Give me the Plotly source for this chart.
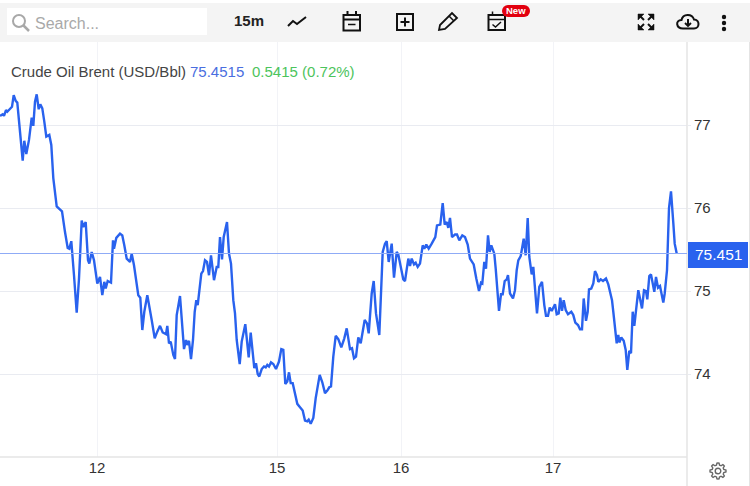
import math
import plotly.graph_objects as go

# 15 minute bars, one pair of lists per trading day
bars_11 = [0, 1.35, 2, 3, 3.65, 5, 6, 6.85, 7.85, 8.65, 9.65, 10.35, 11.35, 12.15, 13.15, 14.5, 15.85, 16.65, 17.5,
           18.35, 19.35, 20.15, 21.15, 22.15, 23.15, 24.65, 25.65, 26.65, 28.35, 29.65, 31, 32.5, 33.85, 34.65, 35.65,
           37, 38.35, 39.5, 40.85, 41.65, 42.85, 44, 44.65, 45.85, 47]
close_11 = [77.11, 77.13, 77.11, 77.18, 77.16, 77.20, 77.22, 77.36, 77.29, 77.27, 77.04, 76.80, 76.57, 76.81, 76.65,
            76.82, 77.09, 76.99, 77.28, 77.37, 77.19, 77.25, 77.20, 77.04, 76.86, 76.88, 76.76, 76.36, 76.02, 75.99,
            75.96, 75.71, 75.52, 75.51, 75.60, 75.19, 74.74, 75.15, 75.85, 75.77, 75.83, 75.37, 75.33, 75.47, 75.37]

bars_12 = [48.65, 50, 51.15, 52.15, 52.85, 53.85, 55.5, 56.5, 57, 58.15, 60, 61.15, 62.15, 63.35, 65, 65.85, 67, 69.15,
           70.15, 71.15, 72.15, 73.65, 75.85, 77.35, 78.65, 80, 81.35, 83, 83.65, 84.5, 85.35, 86.65, 87.5, 88.35, 90,
           91.15, 92, 93, 93.65, 94.5, 95.5, 96.5, 97.35, 98.15, 98.85, 100.65, 101.5, 102.5, 103.5, 104.5, 105.5, 107,
           108.35, 109.15, 110, 111, 111.85, 113.5, 114.5, 115.5, 116.65, 117.5, 118.35, 119.85, 120.85, 122.65,
           124.35, 125.35, 127.15, 128, 128.85, 129.65, 130.85, 132, 132.85, 133.65, 134.5, 135.5, 136.65, 138]
close_12 = [75.09, 75.17, 74.95, 75.11, 75.03, 75.12, 75.10, 75.61, 75.51, 75.64, 75.69, 75.67, 75.55, 75.39, 75.35,
            75.45, 75.31, 74.95, 74.92, 74.53, 74.75, 74.95, 74.65, 74.43, 74.51, 74.58, 74.50, 74.48, 74.58, 74.37,
            74.39, 74.23, 74.18, 74.71, 74.94, 74.59, 74.30, 74.41, 74.35, 74.40, 74.18, 74.41, 74.75, 74.89, 74.83,
            75.21, 75.24, 75.37, 75.35, 75.19, 75.43, 75.13, 75.29, 75.29, 75.65, 75.38, 75.65, 75.83, 75.45, 75.33,
            74.89, 74.73, 74.41, 74.12, 74.39, 74.60, 74.20, 74.50, 74.07, 74.13, 74.00, 73.97, 74.06, 74.09, 74.08,
            74.11, 74.09, 74.14, 74.12, 74.06]

bars_15 = [139.5, 140.65, 141.65, 142.65, 143.65, 144.5, 145.35, 146.35, 147.5, 148.65, 150, 151.35, 152.5, 153.65,
           154.35, 155.35, 156.65, 157.85, 159.85, 161.15, 162.5, 163.65, 164.65, 165.5, 166.65, 167.85, 169.15,
           170.65, 172.15, 173.35, 175, 176, 177, 178, 179.15, 180.35, 182.35, 183.5, 184.35, 185.85, 186.85, 188,
           189.65, 191.35, 192.5, 193.35, 194.35, 195.85, 197, 198.35, 199.15]
close_15 = [74.15, 74.30, 74.29, 73.88, 73.91, 74.02, 73.89, 73.89, 73.77, 73.64, 73.60, 73.56, 73.44, 73.43, 73.45,
            73.40, 73.47, 73.71, 73.99, 73.90, 73.77, 73.80, 73.84, 73.85, 74.21, 74.46, 74.42, 74.32, 74.43, 74.55,
            74.30, 74.31, 74.19, 74.21, 74.44, 74.37, 74.65, 74.61, 74.49, 74.97, 75.12, 74.73, 74.47, 75.47, 75.57,
            75.60, 75.35, 75.57, 75.16, 75.47, 75.44]

bars_16 = [200.85, 201.65, 202.5, 204.15, 205, 205.85, 207, 207.85, 208.85, 210, 211.35, 212.15, 213.15, 214.35, 215.85,
           217.65, 218.5, 220.15, 221.35, 222.35, 223.35, 224.15, 225, 226, 227.5, 228.5, 229.65, 231.15, 232.5,
           233.85, 235, 236.85, 238.15, 239.5, 240.5, 241.15, 242.15, 243, 244, 244.85, 245.65, 247.15, 247.85, 248.65,
           249.5, 250.5, 251.35, 252.35, 253.35, 254, 255, 256.5, 257.5, 258.35, 259.15, 260.35, 261.85, 262.85, 263.85,
           264.65, 265.85, 266.65, 267.65, 268.5, 269.65, 271, 272.15, 273, 274, 274.85, 275.85]
close_16 = [75.21, 75.14, 75.12, 75.39, 75.30, 75.39, 75.32, 75.34, 75.29, 75.33, 75.55, 75.51, 75.56, 75.51, 75.57,
            75.65, 75.79, 75.80, 76.06, 75.80, 75.83, 75.76, 75.88, 75.65, 75.68, 75.68, 75.61, 75.67, 75.65, 75.56,
            75.39, 75.32, 75.15, 75.00, 75.10, 75.09, 75.35, 75.27, 75.67, 75.47, 75.55, 75.45, 75.27, 74.95, 74.76,
            74.96, 74.96, 75.12, 75.14, 75.19, 74.97, 74.91, 75.01, 75.25, 75.37, 75.42, 75.63, 75.43, 75.88, 75.41,
            75.20, 75.29, 75.01, 74.73, 75.05, 75.11, 74.83, 74.70, 74.70, 74.80, 74.76]

bars_17 = [277.5, 278.35, 279.35, 280.15, 281, 281.85, 282.85, 284, 285.65, 286.65, 287.65, 289, 290, 291, 291.85, 293,
           293.85, 294.5, 295.65, 296.65, 297.5, 298.5, 299.15, 300.35, 301.5, 303, 304.15, 305, 306, 306.65, 307.5,
           308.35, 309.15, 309.65, 310.65, 311.85, 312.85, 313.65, 314.65, 315.5, 316.35, 317.15, 319.15, 321, 322, 323,
           323.65, 324.65, 325.5, 327.15, 328, 329, 330, 331.65, 332.35, 333.5, 334.5, 335.5, 336.65, 337.35, 338.35]
close_17 = [74.84, 74.72, 74.73, 74.92, 74.76, 74.89, 74.77, 74.72, 74.75, 74.71, 74.62, 74.59, 74.54, 74.54, 74.91,
            74.64, 74.75, 75.02, 75.03, 75.09, 75.24, 75.19, 75.11, 75.14, 75.12, 75.15, 75.08, 74.99, 74.89, 74.75,
            74.55, 74.37, 74.47, 74.38, 74.44, 74.40, 74.29, 74.05, 74.28, 74.25, 74.75, 74.58, 75.01, 74.79, 75.01,
            75.00, 74.90, 75.18, 75.20, 74.99, 75.17, 75.04, 75.06, 74.86, 74.97, 75.25, 76.00, 76.20, 75.82, 75.57,
            75.4515]

day_ticks = [48.5, 138.5, 200.5, 276.5]
day_labels = ["12", "15", "16", "17"]
price_ticks = [74, 75, 76, 77]
last_price = 75.4515

BLUE = "#2962ee"
GRID = "#e9ebf1"
GRID_X = "#f2f3f7"
EDGE = "#e4e4e4"
INK = "#111111"
FONT = "Liberation Sans, Arial, sans-serif"

# the page is 750x486, the plot takes 687x415 of it starting at y=42
PLOT_W, PLOT_H, PLOT_TOP = 687, 415, 42


def px(x):
    return x / PLOT_W


def py(y):
    return 1 - (y - PLOT_TOP) / PLOT_H


def path(*segs, closed=False):
    # each seg is a command letter and some page pixel pairs
    out = []
    for seg in segs:
        nums = seg[1:]
        pairs = [f"{px(nums[i]):.5f},{py(nums[i + 1]):.5f}" for i in range(0, len(nums), 2)]
        out.append(seg[0] + " ".join(pairs))
    return " ".join(out) + (" Z" if closed else "")


shapes = []
notes = []


def add_path(*segs, closed=False, color=INK, width=2, fill=None):
    shapes.append(dict(type="path", xref="paper", yref="paper", path=path(*segs, closed=closed), layer="above",
                       line=dict(color=color, width=width), fillcolor=fill or "rgba(0,0,0,0)"))


def add_poly(pts, closed=False, color=INK, width=2, fill=None):
    segs = [("M", *pts[0])] + [("L", *p) for p in pts[1:]]
    add_path(*segs, closed=closed, color=color, width=width, fill=fill)


def add_box(x0, y0, x1, y1, fill=None, color=None, width=0, kind="rect", layer="above"):
    shapes.append(dict(type=kind, xref="paper", yref="paper", x0=px(x0), x1=px(x1), y0=py(y0), y1=py(y1), layer=layer,
                       fillcolor=fill or "rgba(0,0,0,0)", line=dict(color=color or "rgba(0,0,0,0)", width=width)))


def add_text(x, y, text, size, color, anchor="left", **extra):
    notes.append(dict(xref="paper", yref="paper", x=px(x), y=py(y), text=text, showarrow=False, xanchor=anchor,
                      yanchor="middle", font=dict(family=FONT, size=size, color=color), **extra))


# toolbar
add_box(0, 0, 750, 3, fill="#ffffff")
add_box(0, 3, 750, 42, fill="#f4f4f4")
add_box(7, 8, 207, 35, fill="#ffffff")
add_box(13, 15, 25, 27, color="#a8a8a8", width=2, kind="circle")
add_poly([(23, 25), (29, 31)], color="#a8a8a8", width=2.5)
add_text(33, 24, "Search...", 16, "#a9a9a9")
add_text(232, 21, "<b>15m</b>", 15, "#222222")

# line type icon
add_poly([(288, 26), (293, 21), (297, 24), (306, 17)], width=2)

# calendar
add_box(343.5, 15, 360, 30.5, color=INK, width=2)
add_poly([(343.5, 19.5), (360, 19.5)], width=2)
add_poly([(347.5, 11), (347.5, 15)], width=2)
add_poly([(356, 11), (356, 15)], width=2)
add_poly([(348, 24.5), (355.5, 24.5)], width=1.5)

# plus box
add_box(397, 14, 413, 30, color=INK, width=2)
add_poly([(405, 17.5), (405, 26.5)], width=2)
add_poly([(400.5, 22), (409.5, 22)], width=2)

# pencil
add_poly([(439, 30), (440, 25), (452, 13), (457, 18), (445, 29)], closed=True, width=1.8)
add_poly([(449, 16), (454, 21)], width=1.5)

# calendar with tick and the New badge
add_box(488.5, 15, 505, 30, color=INK, width=2)
add_poly([(488.5, 19.5), (505, 19.5)], width=1.5)
add_poly([(492.5, 11.5), (492.5, 15)], width=1.5)
add_poly([(492.5, 24.5), (495.5, 27), (501, 22)], width=1.5)
add_box(502, 5, 514, 17, fill="#e2000f", kind="circle")
add_box(518, 5, 530, 17, fill="#e2000f", kind="circle")
add_box(508, 5, 524, 17, fill="#e2000f")
add_text(516, 11, "<b>New</b>", 9.5, "#ffffff", anchor="center")

# full screen arrows
for cx, cy, sx, sy in [(638, 14, 1, 1), (654, 14, -1, 1), (638, 30, 1, -1), (654, 30, -1, -1)]:
    add_poly([(cx, cy), (cx + 6 * sx, cy), (cx, cy + 6 * sy)], closed=True, width=0.5, fill=INK)
    add_poly([(cx + 2 * sx, cy + 2 * sy), (cx + 6 * sx, cy + 6 * sy)], width=2)

# cloud with arrow
add_path(("M", 683, 28.5), ("C", 676, 28.5, 675, 20, 681.5, 20), ("C", 683, 13.5, 692, 13.5, 694, 19.5),
         ("C", 700, 19.5, 700, 28.5, 694, 28.5), closed=True, width=2)
add_poly([(688, 19), (688, 25)], width=2)
add_poly([(685, 23), (688, 26), (691, 23)], width=1.8)

# menu dots
for dot_y in [17, 23, 29]:
    add_box(721.8, dot_y - 2.2, 726.2, dot_y + 2.2, fill=INK, kind="circle")

# settings gear, bottom right
gear = []
for i in range(48):
    a = 2 * math.pi * i / 48
    r = 8 if (i % 6) in (0, 1, 5) else 6
    gear.append((718 + r * math.cos(a), 471 + r * math.sin(a)))
add_poly(gear, closed=True, color="#666666", width=1.4)
add_box(715.2, 468.2, 720.8, 473.8, color="#666666", width=1.4, kind="circle")

# frame round the plot
add_poly([(687, 42), (687, 486)], color=EDGE, width=1.5)
add_poly([(0, 457), (687, 457)], color=EDGE, width=1.5)
add_poly([(749.5, 42), (749.5, 486)], color=EDGE, width=1)

# title line
add_text(9, 71, "Crude Oil Brent (USD/Bbl)", 15, "#444444")
add_text(188, 71, "75.4515", 15, "#4a6ee0")
add_text(250, 71, "0.5415 (0.72%)", 15, "#4cc45c")

# last price line and its label
add_poly([(0, 253.5), (687, 253.5)], color="#8fabf6", width=1)
add_box(688, 242, 748, 268, fill=BLUE)
add_text(718, 255, "75.451", 15.5, "#ffffff", anchor="center")

bars = bars_11 + bars_12 + bars_15 + bars_16 + bars_17
closes = close_11 + close_12 + close_15 + close_16 + close_17

fig = go.Figure()
fig.add_trace(go.Scatter(x=bars, y=closes, mode="lines", name="Crude Oil Brent (USD/Bbl)", showlegend=False,
                         line=dict(color=BLUE, width=2.4), hoverinfo="skip", cliponaxis=False))

fig.update_layout(
    width=750,
    height=486,
    margin=dict(l=0, r=63, t=42, b=29),
    paper_bgcolor="#ffffff",
    plot_bgcolor="#ffffff",
    showlegend=False,
    shapes=shapes,
    annotations=notes,
    font=dict(family=FONT, size=15, color="#333333"),
    xaxis=dict(range=[0, 343.5], tickvals=day_ticks, ticktext=day_labels, showgrid=True, gridcolor=GRID_X, gridwidth=1,
               showline=False, zeroline=False, ticks="", tickfont=dict(size=15, color="#333333")),
    yaxis=dict(range=[73, 78], side="right", tickvals=price_ticks, showgrid=True, gridcolor=GRID, gridwidth=1,
               showline=False, zeroline=False, ticks="outside", ticklen=3, tickcolor=GRID,
               tickfont=dict(size=15, color="#333333")),
)

# the page's default body margin would push everything 8px down and right
fig.write_html("out.html", config=dict(displayModeBar=False), post_script="document.body.style.margin='0';")
